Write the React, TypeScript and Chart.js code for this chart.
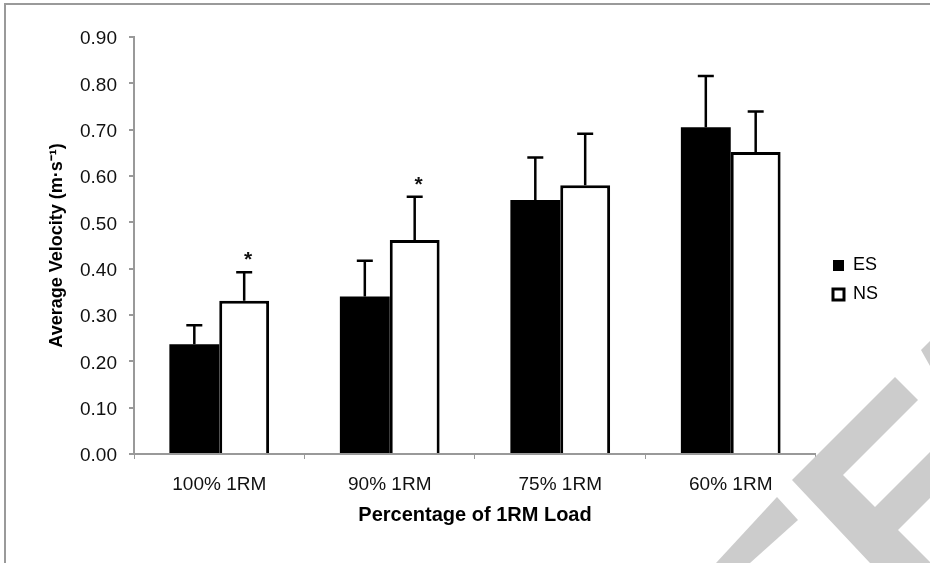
import React, { useEffect, useRef } from 'react';
import { Chart, registerables } from 'chart.js';

Chart.register(...registerables);

// ---- Data ----
const categories = ['100% 1RM', '90% 1RM', '75% 1RM', '60% 1RM'];
const seriesNames = ['ES', 'NS'];
const esMeans = [0.237, 0.34, 0.548, 0.705];
const esSD = [0.041, 0.077, 0.092, 0.111];
const nsMeans = [0.331, 0.462, 0.58, 0.652];
const nsSD = [0.061, 0.093, 0.111, 0.087];
const nsSignificance = ['*', '*', '', ''];
const yMin = 0;
const yMax = 0.9;
const yStep = 0.1;
const yTitle = 'Average Velocity (m·s⁻¹)';
const xTitle = 'Percentage of 1RM Load';

const FONT = "'Liberation Sans', Arial, Helvetica, sans-serif";

const framePlugin = {
  id: 'frame',
  beforeDraw(chart: any) {
    const { ctx, width, height } = chart;
    ctx.save();
    ctx.fillStyle = '#ffffff';
    ctx.fillRect(0, 0, width, height);
    ctx.strokeStyle = '#9a9a9a';
    ctx.lineWidth = 2;
    ctx.beginPath();
    ctx.moveTo(5, height);
    ctx.lineTo(5, 4);
    ctx.lineTo(width, 4);
    ctx.stroke();
    ctx.restore();
  },
};

const errorBarPlugin = {
  id: 'errorBars',
  afterDatasetsDraw(chart: any) {
    const ctx = chart.ctx;
    const yScale = chart.scales.y;
    chart.data.datasets.forEach((ds: any, di: number) => {
      const meta = chart.getDatasetMeta(di);
      meta.data.forEach((bar: any, i: number) => {
        const top = yScale.getPixelForValue(ds.data[i] + ds.errors[i]);
        ctx.save();
        ctx.strokeStyle = '#000';
        ctx.lineWidth = 2.5;
        ctx.beginPath();
        ctx.moveTo(bar.x, bar.y);
        ctx.lineTo(bar.x, top);
        ctx.moveTo(bar.x - 8, top);
        ctx.lineTo(bar.x + 8, top);
        ctx.stroke();
        if (ds.marks && ds.marks[i]) {
          ctx.fillStyle = '#111';
          ctx.font = `bold 21px ${FONT}`;
          ctx.textAlign = 'center';
          ctx.textBaseline = 'alphabetic';
          ctx.fillText(ds.marks[i], bar.x + 4, top - 6);
        }
        ctx.restore();
      });
    });
  },
};

const legendShiftPlugin = {
  id: 'legendShift',
  afterLayout(chart: any) {
    const lg = chart.legend;
    if (!lg) return;
    const dx = 6;
    const dy = -20;
    lg.left += dx;
    lg.right += dx;
    lg.top += dy;
    lg.bottom += dy;
  },
};

const watermarkPlugin = {
  id: 'watermark',
  afterDraw(chart: any) {
    const ctx = chart.ctx;
    const shapes: number[][][] = [
      [[777, 497], [798, 520], [750, 563], [716, 563]],
      [[895, 377], [918, 400], [843, 475], [875, 507], [930, 452], [930, 498], [898, 530], [930, 562], [930, 563], [870, 563], [792, 480]],
      [[921, 350], [930, 341], [930, 366]],
    ];
    ctx.save();
    ctx.fillStyle = '#cccccc';
    shapes.forEach((s) => {
      ctx.beginPath();
      s.forEach(([x, y], i) => (i === 0 ? ctx.moveTo(x, y) : ctx.lineTo(x, y)));
      ctx.closePath();
      ctx.fill();
    });
    ctx.restore();
  },
};

export default function App() {
  const ref = useRef<HTMLCanvasElement | null>(null);

  useEffect(() => {
    if (!ref.current) return;
    const chart = new Chart(ref.current, {
      type: 'bar',
      data: {
        labels: categories,
        datasets: [
          {
            label: seriesNames[0],
            data: esMeans,
            errors: esSD,
            backgroundColor: '#000000',
            borderColor: '#000000',
            borderWidth: 0,
          } as any,
          {
            label: seriesNames[1],
            data: nsMeans,
            errors: nsSD,
            marks: nsSignificance,
            backgroundColor: '#ffffff',
            borderColor: '#000000',
            borderWidth: 3,
          } as any,
        ],
      },
      options: {
        responsive: false,
        maintainAspectRatio: false,
        animation: false,
        layout: { padding: { left: 0, top: 37, right: 48, bottom: 0 } },
        datasets: {
          bar: { categoryPercentage: 0.585, barPercentage: 1.0 },
        },
        plugins: {
          tooltip: { enabled: false },
          legend: {
            position: 'right',
            align: 'center',
            labels: {
              boxWidth: 11,
              boxHeight: 11,
              padding: 11,
              color: '#000',
              font: { size: 18, family: FONT },
            },
          },
        },
        scales: {
          x: {
            grid: {
              display: true,
              drawOnChartArea: false,
              drawTicks: true,
              tickLength: 5,
              color: '#999999',
              lineWidth: 1,
              offset: true,
            },
            border: { display: true, color: '#999999', width: 2 },
            ticks: {
              color: '#111',
              padding: 14,
              font: { size: 19, family: FONT },
              maxRotation: 0,
            },
            title: {
              display: true,
              text: xTitle,
              color: '#000',
              font: { size: 20, weight: 'bold', family: FONT },
              padding: { top: 0, bottom: 36 },
            },
            afterFit(scale: any) {
              scale.height = 109;
            },
          },
          y: {
            min: yMin,
            max: yMax,
            grid: {
              display: true,
              drawOnChartArea: false,
              drawTicks: true,
              tickLength: 5,
              color: '#999999',
              lineWidth: 2,
            },
            border: { display: true, color: '#999999', width: 2 },
            ticks: {
              stepSize: yStep,
              color: '#111',
              padding: 12,
              labelOffset: 2,
              font: { size: 19, family: FONT },
              callback: (v: any) => Number(v).toFixed(2),
            },
            title: {
              display: true,
              text: yTitle,
              color: '#000',
              font: { size: 18, weight: 'bold', family: FONT },
              padding: { top: 46, bottom: 0 },
            },
            afterFit(scale: any) {
              scale.width = 134;
            },
          },
        },
      },
      plugins: [framePlugin, errorBarPlugin, legendShiftPlugin, watermarkPlugin],
    } as any);
    return () => chart.destroy();
  }, []);

  return (
    <div style={{ position: 'absolute', left: 0, top: 0, width: 930, height: 563 }}>
      <canvas ref={ref} width={930} height={563} style={{ display: 'block' }} />
    </div>
  );
}
